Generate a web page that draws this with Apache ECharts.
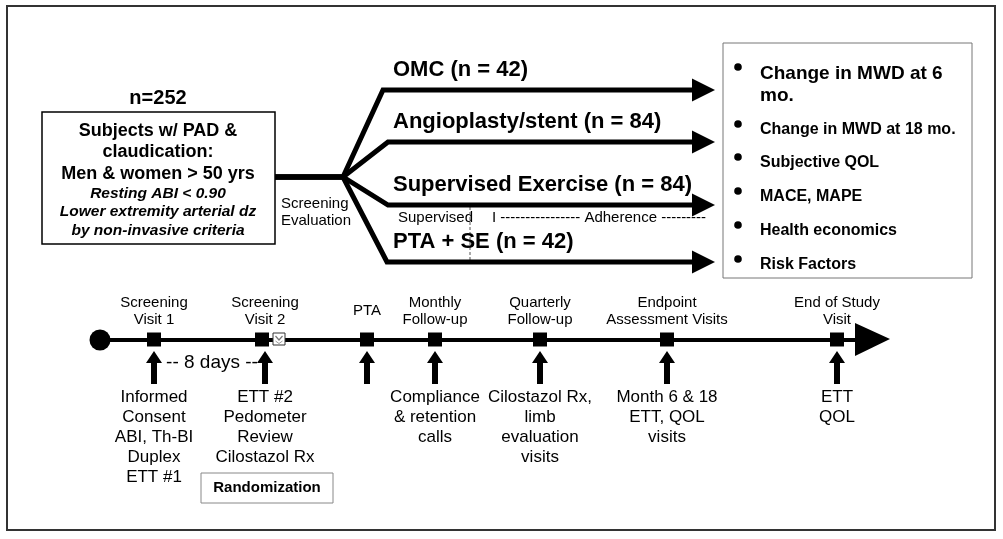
<!DOCTYPE html>
<html>
<head>
<meta charset="utf-8">
<script src="https://cdn.jsdelivr.net/npm/echarts@6/dist/echarts.min.js"></script>
<style>
  html, body { margin: 0; padding: 0; background: #fff; }
  #main { width: 1003px; height: 539px; }
</style>
</head>
<body>
<div id="main"></div>
<script>
  // study data
  const enrolled = 252;
  const subjectLines = ['Subjects w/ PAD &', 'claudication:', 'Men & women > 50 yrs'];
  const criteriaLines = ['Resting ABI < 0.90', 'Lower extremity arterial dz', 'by non-invasive criteria'];
  const armNames = ['OMC (n = 42)', 'Angioplasty/stent (n = 84)', 'Supervised Exercise (n = 84)', 'PTA + SE (n = 42)'];
  const outcomes = ['Change in MWD at 6\nmo.', 'Change in MWD at 18 mo.', 'Subjective QOL', 'MACE, MAPE', 'Health economics', 'Risk Factors'];
  const visitTitles = ['Screening\nVisit 1', 'Screening\nVisit 2', 'PTA', 'Monthly\nFollow-up', 'Quarterly\nFollow-up', 'Endpoint\nAssessment Visits', 'End of Study\nVisit'];
  const visitNotes = ['Informed\nConsent\nABI, Th-BI\nDuplex\nETT #1', 'ETT #2\nPedometer\nReview\nCilostazol Rx', '', 'Compliance\n& retention\ncalls', 'Cilostazol Rx,\nlimb\nevaluation\nvisits', 'Month 6 & 18\nETT, QOL\nvisits', 'ETT\nQOL'];

  // layout (page units, the hidden axes map them 1:1)
  const armY = [90, 142, 205, 262];
  const armBendX = [383, 388, 388, 387];
  const fork = [343, 177];
  const armEndX = 692;
  const outcomeY = [73, 130, 163, 197, 231, 265];
  const visitX = [154, 265, 367, 435, 540, 667, 837];
  const lineY = 340;

  const FONT = '"Liberation Sans", Arial, sans-serif';
  const chart = echarts.init(document.getElementById('main'));

  chart.setOption({
    animation: false,
    grid: { left: 0, right: 0, top: 0, bottom: 0 },
    xAxis: { type: 'value', min: 0, max: 1003, show: false },
    yAxis: { type: 'value', min: 0, max: 539, inverse: true, show: false },
    series: [
      {
        // randomised arms
        type: 'custom',
        data: armY.map(y => [armEndX, y]),
        renderItem: function (params, api) {
          const i = params.dataIndex;
          const end = api.coord([api.value(0), api.value(1)]);
          const bend = api.coord([armBendX[i], api.value(1)]);
          const f = api.coord(fork);
          const start = api.coord([275, fork[1]]);
          return {
            type: 'group',
            children: [
              { type: 'polyline', shape: { points: [start, f, bend, end] },
                style: { stroke: '#000', lineWidth: 5, fill: null, lineJoin: 'miter' } },
              { type: 'polygon', shape: { points: [[end[0], end[1] - 11.5], [end[0] + 23, end[1]], [end[0], end[1] + 11.5]] },
                style: { fill: '#000' } },
              { type: 'text', x: 393, y: end[1] - 20,
                style: { text: armNames[i], font: 'bold 22px ' + FONT, fill: '#000', align: 'left', verticalAlign: 'middle' } }
            ]
          };
        }
      },
      {
        // outcomes list
        type: 'custom',
        data: outcomeY.map(y => [760, y]),
        renderItem: function (params, api) {
          const i = params.dataIndex;
          const p = api.coord([api.value(0), api.value(1)]);
          const big = i === 0;
          return {
            type: 'group',
            children: [
              { type: 'circle', shape: { cx: 738, cy: p[1] - 6, r: 3.8 }, style: { fill: '#000' } },
              { type: 'text', x: p[0], y: p[1] - (big ? 10 : 9),
                style: { text: outcomes[i], font: 'bold ' + (big ? 19 : 16) + 'px ' + FONT, fill: '#000',
                  align: 'left', verticalAlign: 'top', lineHeight: big ? 22 : 18 } }
            ]
          };
        }
      },
      {
        // timeline base
        type: 'custom',
        data: [[100, lineY]],
        renderItem: function (params, api) {
          const s = api.coord([api.value(0), api.value(1)]);
          const e = api.coord([858, lineY]);
          return {
            type: 'group',
            children: [
              { type: 'line', shape: { x1: s[0], y1: s[1], x2: e[0], y2: e[1] }, style: { stroke: '#000', lineWidth: 4 } },
              { type: 'circle', shape: { cx: s[0], cy: s[1], r: 10.5 }, style: { fill: '#000' } },
              { type: 'polygon', shape: { points: [[855, lineY - 17], [890, lineY - 1], [855, lineY + 16]] }, style: { fill: '#000' } },
              { type: 'rect', shape: { x: 273, y: lineY - 7, width: 12, height: 12 }, style: { fill: '#fff', stroke: '#333', lineWidth: 1 } },
              { type: 'polyline', shape: { points: [[275.5, lineY - 4], [279, lineY], [282.5, lineY - 4]] }, style: { stroke: '#777', lineWidth: 1.2, fill: null } },
              { type: 'polyline', shape: { points: [[275.5, lineY + 1], [279, lineY + 3.5], [282.5, lineY + 1]] }, style: { stroke: '#999', lineWidth: 1, fill: null } }
            ]
          };
        }
      },
      {
        // visits on the timeline
        type: 'custom',
        data: visitX.map(x => [x, lineY]),
        renderItem: function (params, api) {
          const i = params.dataIndex;
          const p = api.coord([api.value(0), api.value(1)]);
          const x = p[0];
          const sq = i === 1 ? x - 3 : x;
          return {
            type: 'group',
            children: [
              { type: 'rect', shape: { x: sq - 7, y: p[1] - 7.5, width: 14, height: 14 }, style: { fill: '#000' } },
              { type: 'polygon', shape: { points: [[x - 3, 384], [x - 3, 363], [x - 8, 363], [x, 351], [x + 8, 363], [x + 3, 363], [x + 3, 384]] },
                style: { fill: '#000' } },
              { type: 'text', x: x, y: 311,
                style: { text: visitTitles[i], font: '15px ' + FONT, fill: '#000', align: 'center', verticalAlign: 'middle', lineHeight: 17 } },
              { type: 'text', x: x, y: 387,
                style: { text: visitNotes[i], font: '17px ' + FONT, fill: '#000', align: 'center', verticalAlign: 'top', lineHeight: 20 } }
            ]
          };
        }
      }
    ],
    graphic: [
      { type: 'rect', shape: { x: 7, y: 6, width: 988, height: 524 }, style: { fill: null, stroke: '#333', lineWidth: 2 } },
      { type: 'text', x: 158, y: 98, style: { text: 'n=' + enrolled, font: 'bold 20px ' + FONT, fill: '#000', align: 'center', verticalAlign: 'middle' } },
      { type: 'rect', shape: { x: 42, y: 112, width: 233, height: 132 }, style: { fill: '#fff', stroke: '#000', lineWidth: 1.5 } },
      { type: 'text', x: 158, y: 120, style: { text: subjectLines.join('\n'), font: 'bold 18px ' + FONT, fill: '#000', align: 'center', verticalAlign: 'top', lineHeight: 21.5 } },
      { type: 'text', x: 158, y: 184, style: { text: criteriaLines.join('\n'), font: 'italic bold 15.5px ' + FONT, fill: '#000', align: 'center', verticalAlign: 'top', lineHeight: 18.5 } },
      { type: 'text', x: 281, y: 212, style: { text: 'Screening\nEvaluation', font: '15px ' + FONT, fill: '#000', align: 'left', verticalAlign: 'middle', lineHeight: 17 } },
      { type: 'text', x: 398, y: 218, style: { text: 'Supervised', font: '15px ' + FONT, fill: '#000', align: 'left', verticalAlign: 'middle' } },
      { type: 'text', x: 492, y: 218, style: { text: 'I ---------------- Adherence ---------', font: '15px ' + FONT, fill: '#000', align: 'left', verticalAlign: 'middle' } },
      { type: 'line', shape: { x1: 470, y1: 207, x2: 470, y2: 262 }, style: { stroke: '#555', lineWidth: 1, lineDash: [3, 2] } },
      { type: 'rect', shape: { x: 723, y: 43, width: 249, height: 235 }, style: { fill: null, stroke: '#777', lineWidth: 1 } },
      { type: 'text', x: 212, y: 363, style: { text: '-- 8 days --', font: '19px ' + FONT, fill: '#000', align: 'center', verticalAlign: 'middle' } },
      { type: 'rect', shape: { x: 201, y: 473, width: 132, height: 30 }, style: { fill: '#fff', stroke: '#888', lineWidth: 1 } },
      { type: 'text', x: 267, y: 488, style: { text: 'Randomization', font: 'bold 15px ' + FONT, fill: '#000', align: 'center', verticalAlign: 'middle' } }
    ]
  });
</script>
</body>
</html>
